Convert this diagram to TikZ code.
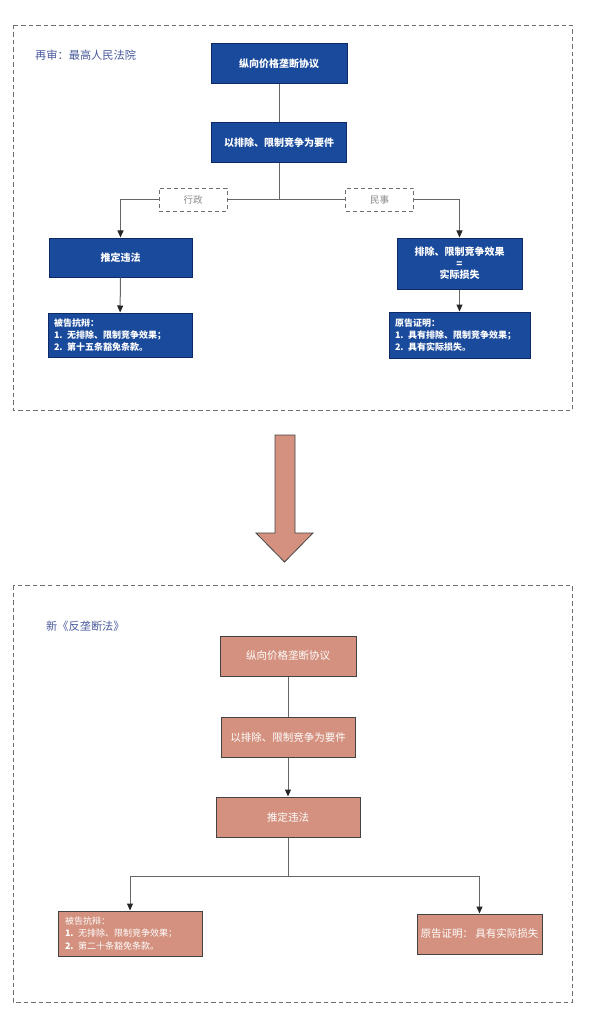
\documentclass[tikz,border=0pt]{standalone}
\usepackage{fontspec}
\setmainfont{Noto Sans CJK SC}
\usetikzlibrary{arrows.meta}
\definecolor{bluefill}{HTML}{1A4A9B}
\definecolor{blueline}{HTML}{0D2A66}
\definecolor{salmon}{HTML}{D4917F}
\definecolor{salmonline}{HTML}{444444}
\definecolor{titleblue}{HTML}{4A5B9C}
\definecolor{connc}{HTML}{666666}
\definecolor{dashc}{HTML}{6E6E6E}
\definecolor{labelc}{HTML}{8A8A8A}
\begin{document}
\begin{tikzpicture}[x=1pt,y=-1pt,
  bluebox/.style={draw=blueline,line width=1pt,fill=bluefill,text=white,inner sep=0pt,
    font=\fontsize{10}{11.5}\selectfont\bfseries,align=center},
  bluelist/.style={draw=blueline,line width=1pt,fill=bluefill,text=white,inner xsep=6pt,inner ysep=0pt,
    font=\fontsize{9}{12}\selectfont\bfseries,align=left},
  salbox/.style={draw=salmonline,line width=1pt,fill=salmon,text=white,inner sep=0pt,
    font=\fontsize{10.5}{12}\selectfont,align=center},
  sallist/.style={draw=salmonline,line width=1pt,fill=salmon,text=white,inner xsep=7pt,inner ysep=0pt,
    font=\fontsize{9}{12.5}\selectfont,align=left},
  tag/.style={draw=dashc,line width=0.8pt,dash pattern=on 4pt off 3pt,fill=white,text=labelc,
    inner sep=0pt,minimum width=68pt,minimum height=23pt,font=\fontsize{9.5}{10}\selectfont},
  conn/.style={draw=connc,line width=1pt},
  arr/.style={conn,-{Triangle[width=6pt,length=7pt,color=black!85]}},
  outer/.style={draw=dashc,line width=0.9pt,dash pattern=on 4.5pt off 3pt},
  ttl/.style={text=titleblue,anchor=west,inner sep=0pt,font=\fontsize{11.2}{12}\selectfont},
  bigarrow/.style={fill=salmon,draw=salmonline,line width=0.8pt,line join=miter}
]
\useasboundingbox (0,0) rectangle (589,1024);

% ---------- top panel ----------
\draw[outer] (13,25) rectangle (572,410);
\node[ttl] (ttl1) at (35,55) {再审：最高人民法院};

\node[bluebox,minimum width=136pt,minimum height=40pt] (t1) at (279,64) {纵向价格垄断协议};
\node[bluebox,minimum width=135pt,minimum height=40pt] (t2) at (279,143) {以排除、限制竞争为要件};
\coordinate (j1) at (279,200);
\node[tag] (xz) at (193,200) {行政};
\node[tag] (ms) at (379.5,200) {民事};
\node[bluebox,minimum width=143pt,minimum height=39pt] (t3) at (120.5,257.5) {推定违法};
\node[bluebox,minimum width=125pt,minimum height=51pt] (t4) at (459.5,263.5) {排除、限制竞争效果\\=\\实际损失};
\node[bluelist,text width=132pt,minimum height=44pt] (t5) at (120,335)
  {被告抗辩：\\1. 无排除、限制竞争效果；\\2. 第十五条豁免条款。};
\node[bluelist,text width=129pt,minimum height=46pt] (t6) at (459.5,335)
  {原告证明：\\1. 具有排除、限制竞争效果；\\2. 具有实际损失。};

\draw[conn] (t1) -- (t2);
\draw[conn] (t2) -- (j1);
\draw[conn] (j1) -- (xz);
\draw[conn] (j1) -- (ms);
\draw[arr] (xz.west) -| (t3.north);
\draw[arr] (ms.east) -| (t4.north);
\draw[arr] (t3) -- (t5);
\draw[arr] (t4) -- (t6);

% ---------- big arrow ----------
\draw[bigarrow] (275,435) -- (295,435) -- (295,533) -- (313,533) -- (284.5,562)
  -- (256,533) -- (275,533) -- cycle;

% ---------- bottom panel ----------
\draw[outer] (13,585) rectangle (572,1002);
\node[ttl] (ttl2) at (46,626) {新《反垄断法》};

\node[salbox,minimum width=136pt,minimum height=40pt] (b1) at (288,656) {纵向价格垄断协议};
\node[salbox,minimum width=134pt,minimum height=40pt] (b2) at (288,737) {以排除、限制竞争为要件};
\node[salbox,minimum width=144pt,minimum height=40pt] (b3) at (288,817) {推定违法};
\coordinate (j2) at (288,876);
\node[sallist,text width=130pt,minimum height=45pt] (b4) at (130,933.5)
  {被告抗辩：\\\textbf{1.} 无排除、限制竞争效果；\\\textbf{2.} 第二十条豁免条款。};
\node[salbox,minimum width=125pt,minimum height=40pt] (b5) at (479.5,934) {原告证明：\ 具有实际损失};

\draw[conn] (b1) -- (b2);
\draw[arr] (b2) -- (b3);
\draw[conn] (b3) -- (j2);
\draw[arr] (j2) -| (b4.north);
\draw[arr] (j2) -| (b5.north);
\end{tikzpicture}
\end{document}
